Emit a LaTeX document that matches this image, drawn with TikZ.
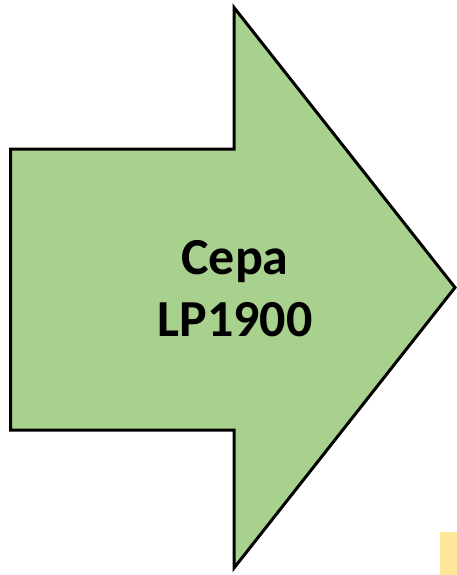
\documentclass[tikz,border=0pt]{standalone}
\usepackage{fontspec}
\setmainfont{Carlito}
\definecolor{arrowgreen}{HTML}{A9D18E}
\definecolor{noteyellow}{HTML}{FFE699}
\begin{document}
\begin{tikzpicture}[x=1pt,y=-1pt,
  blockarrow/.style={fill=arrowgreen,draw=black,line width=3pt,line join=miter},
  label/.style={font=\bfseries\fontsize{52}{62}\selectfont,align=center,text=black}]
\useasboundingbox (0,0) rectangle (457,575);
% right-pointing block arrow
\draw[blockarrow] (10.5,149) -- (234,149) -- (234,7.5) -- (455,287.5)
  -- (234,568) -- (234,430) -- (10.5,430) -- cycle;
\node[label] (strain) at (235,289) {Cepa\\LP1900};
% small yellow box at the lower right edge
\fill[noteyellow] (440,532) rectangle (457,575);
\end{tikzpicture}
\end{document}
